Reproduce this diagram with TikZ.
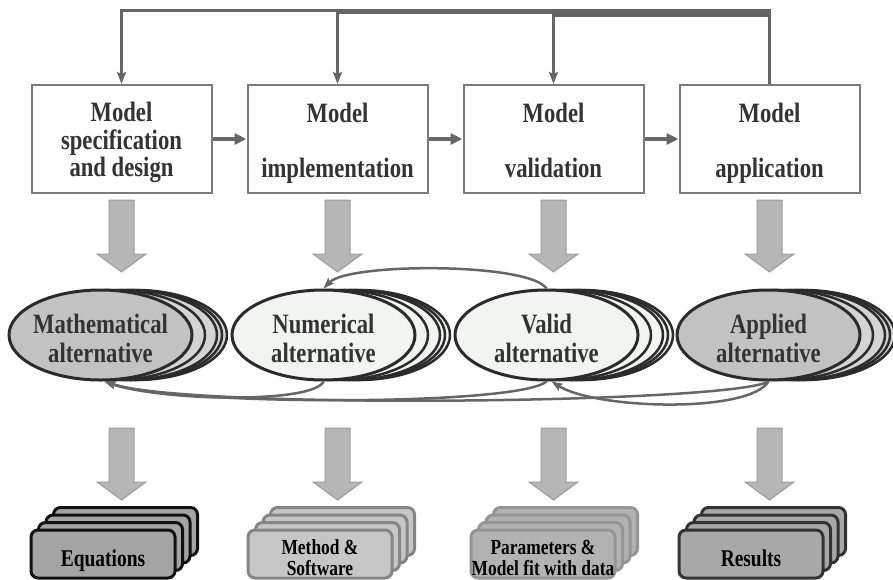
\documentclass[tikz,border=0pt]{standalone}
\usepackage{fontspec}
\setmainfont{Liberation Serif}[FakeStretch=0.81]
\usetikzlibrary{arrows.meta,shapes.geometric,shadows}

\definecolor{ink}{HTML}{333333}
\definecolor{wire}{HTML}{666666}
\definecolor{boxline}{HTML}{7A7A7A}
\definecolor{blockfill}{HTML}{B6B6B6}
\definecolor{blockline}{HTML}{9C9C9C}
\definecolor{ringline}{HTML}{2B2B2B}
\definecolor{darkalt}{HTML}{C2C2C2}
\definecolor{darkaltback}{HTML}{D4D4D4}
\definecolor{lightalt}{HTML}{F2F4F2}
\definecolor{eqfill}{HTML}{A4A4A4}
\definecolor{eqline}{HTML}{111111}
\definecolor{swfill}{HTML}{C6C6C6}
\definecolor{swline}{HTML}{858585}
\definecolor{parfill}{HTML}{B2B2B2}
\definecolor{parline}{HTML}{959595}
\definecolor{resfill}{HTML}{A8A8A8}
\definecolor{resline}{HTML}{333333}

% invisible rules that even out the height of a first line and the depth of a last one
\newcommand{\topfix}{\rule{0pt}{20pt}}
\newcommand{\botfix}{\rule[-6pt]{0pt}{6pt}}
\newcommand{\cardfix}{\rule[-6pt]{0pt}{24pt}}

\begin{document}
\begin{tikzpicture}[x=1pt,y=-1pt,
  stagebox/.style={draw=boxline, line width=2pt, fill=white,
    minimum width=180pt, minimum height=108pt, inner sep=0pt},
  stagetext/.style={align=center, text=ink, inner sep=0pt, yshift=-3.5pt,
    font=\fontsize{28}{27.5}\selectfont\bfseries},
  steparrow/.style={draw=wire, line width=4pt,
    -{Triangle[length=12pt,width=11pt]}},
  loopline/.style={draw=wire, line width=2.5pt,
    -{Stealth[length=12pt,width=9pt,inset=2pt]}},
  backcurve/.style={draw=wire, line width=2.5pt,
    -{Stealth[length=11pt,width=8pt,inset=2pt]}},
  alttext/.style={align=center, text=ink, inner sep=0pt, yshift=-3.5pt,
    font=\fontsize{28}{29}\selectfont\bfseries},
  altstack/.style 2 args={ellipse, minimum width=183pt, minimum height=90pt,
    inner sep=0pt, line width=3pt, draw=ringline, fill=#1,
    copy shadow={shadow xshift=35pt, shadow yshift=0pt, draw=ringline, fill=#2, line width=2.5pt},
    copy shadow={shadow xshift=30pt, shadow yshift=0pt, draw=ringline, fill=#2, line width=2.5pt},
    copy shadow={shadow xshift=25pt, shadow yshift=0pt, draw=ringline, fill=#2, line width=2.5pt},
    copy shadow={shadow xshift=13pt, shadow yshift=0pt, draw=ringline, fill=#2, line width=2.5pt}},
  card/.style 2 args={rectangle, rounded corners=7pt, minimum width=144pt,
    minimum height=48pt, inner sep=0pt, line width=3pt, draw=#2, fill=#1,
    copy shadow={shadow xshift=22.5pt, shadow yshift=22.5pt, draw=#2, fill=#1, line width=3pt},
    copy shadow={shadow xshift=15pt, shadow yshift=15pt, draw=#2, fill=#1, line width=3pt},
    copy shadow={shadow xshift=7.5pt, shadow yshift=7.5pt, draw=#2, fill=#1, line width=3pt}},
  cardtext/.style={align=center, text=black, inner sep=0pt, yshift=-3.5pt,
    font=\fontsize{21.5}{21}\selectfont\bfseries},
  bigcardtext/.style={align=center, text=black, inner sep=0pt, yshift=-6.5pt,
    font=\fontsize{24}{24}\selectfont\bfseries},
  blockdown/.pic={
    \draw[draw=blockline, fill=blockfill, line width=1pt]
      (-12.5,0) -- (12.5,0) -- (12.5,54) -- (24.5,54) -- (0,72)
      -- (-24.5,54) -- (-12.5,54) -- cycle;}
]
\useasboundingbox (0,0) rectangle (893,579);

% the four modelling stages
\node[stagebox, label={[stagetext]center:{\topfix Model\\specification\\and design\botfix}}] (b1) at (121.5,139) {};
\node[stagebox, label={[stagetext]center:{\topfix Model\\[27.5pt]implementation\botfix}}] (b2) at (337.5,139) {};
\node[stagebox, label={[stagetext]center:{\topfix Model\\[27.5pt]validation\botfix}}] (b3) at (553.5,139) {};
\node[stagebox, label={[stagetext]center:{\topfix Model\\[27.5pt]application\botfix}}] (b4) at (769.5,139) {};

\draw[steparrow] (b1) -- (b2);
\draw[steparrow] (b2) -- (b3);
\draw[steparrow] (b3) -- (b4);

% feedback from the application stage to the earlier stages
\draw[loopline] (b4.north) -- (b4.north |- 0,10.5) -| (b1.north);
\draw[loopline] (b4.north) -- (b4.north |- 0,13) -| (b2.north);
\draw[loopline] (b4.north) -- (b4.north |- 0,15.5) -| (b3.north);

% wide arrows down to the alternatives and to the products
\foreach \b in {b1,b2,b3,b4} {
  \pic at ([yshift=-6pt]\b.south) {blockdown};
  \pic at (\b.south |- 0,428) {blockdown};
}

% stacks of alternatives
\node[altstack={darkalt}{darkaltback}, label={[alttext]center:{\topfix Mathematical\\alternative}}] (e1) at (100.5,335) {};
\node[altstack={lightalt}{lightalt}, label={[alttext]center:{\topfix Numerical\\alternative}}] (e2) at (323.5,335) {};
\node[altstack={lightalt}{lightalt}, label={[alttext]center:{\topfix Valid\\alternative}}] (e3) at (546.5,335) {};
\node[altstack={darkalt}{darkaltback}, label={[alttext]center:{\topfix Applied\\alternative}}] (e4) at (768.5,335) {};

% iteration loops between the alternatives
\draw[backcurve] (e3.north) .. controls +(-17,-26) and +(25,-26) .. (e2.north);
\draw[backcurve] (e2.south) .. controls +(-10,22) and +(60,20) .. ([xshift=4pt]e1.south);
\draw[backcurve] (e3.south) .. controls +(-30,25) and +(70,24) .. ([xshift=4pt]e1.south);
\draw[backcurve] (e4.south) .. controls +(-40,22) and +(85,28) .. ([xshift=4pt]e1.south);
\draw[backcurve] (e4.south) .. controls +(-20,32) and +(45,28) .. ([xshift=5pt]e3.south);

% products of each stage
\node[card={eqfill}{eqline}, label={[bigcardtext]center:{\cardfix Equations}}] (c1) at (103,554) {};
\node[card={swfill}{swline}, label={[cardtext]center:{Method \&\\Software}}] (c2) at (320,554) {};
\node[card={parfill}{parline}, label={[cardtext]center:{Parameters \&\\Model fit with data}}] (c3) at (543,554) {};
\node[card={resfill}{resline}, label={[bigcardtext]center:{\cardfix Results}}] (c4) at (751,554) {};
\end{tikzpicture}
\end{document}
